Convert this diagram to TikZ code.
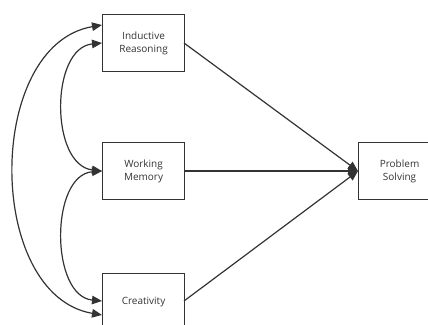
\documentclass[tikz,border=0pt]{standalone}
\usepackage{fontspec}
\setmainfont{Open Sans}
\usetikzlibrary{arrows.meta}
\definecolor{ink}{HTML}{333333}
\tikzset{
  box/.style={draw=ink, line width=1.1pt, minimum width=82pt, minimum height=57pt, inner sep=0pt, anchor=north west, align=center, text=ink, font=\fontsize{10}{13}\selectfont},
  link/.style={draw=ink, line width=1.2pt, -{Triangle[length=10pt,width=8.5pt]}},
  both/.style={draw=ink, line width=1.2pt, {Triangle[length=10pt,width=8.5pt]}-{Triangle[length=10pt,width=8.5pt]}}
}
\begin{document}
\begin{tikzpicture}[x=1pt,y=-1pt]
\clip (0,0) rectangle (428,324);
\node[box] (ir) at (102,14) {Inductive\\Reasoning};
\node[box] (wm) at (102,142) {Working\\Memory};
\node[box] (cr) at (102,273) {Creativity};
\node[box] (ps) at (358,142) {Problem\\Solving};
\coordinate (ira) at (102,25);
\coordinate (irb) at (102,43);
\coordinate (cra) at (102,301);
\coordinate (crb) at (102,315);
\draw[both] (ira) .. controls (-15,45) and (-15,295) .. (crb);
\draw[both] (irb) .. controls (50,48) and (50,165) .. (wm.west);
\draw[both] (wm.west) .. controls (50,175) and (50,296) .. (cra);
\coordinate (ire) at (184,43);
\coordinate (cre) at (184,301);
\draw[link] (ire) -- (ps.west);
\draw[link] (wm.east) -- (ps.west);
\draw[link] (cre) -- (ps.west);
\end{tikzpicture}
\end{document}
